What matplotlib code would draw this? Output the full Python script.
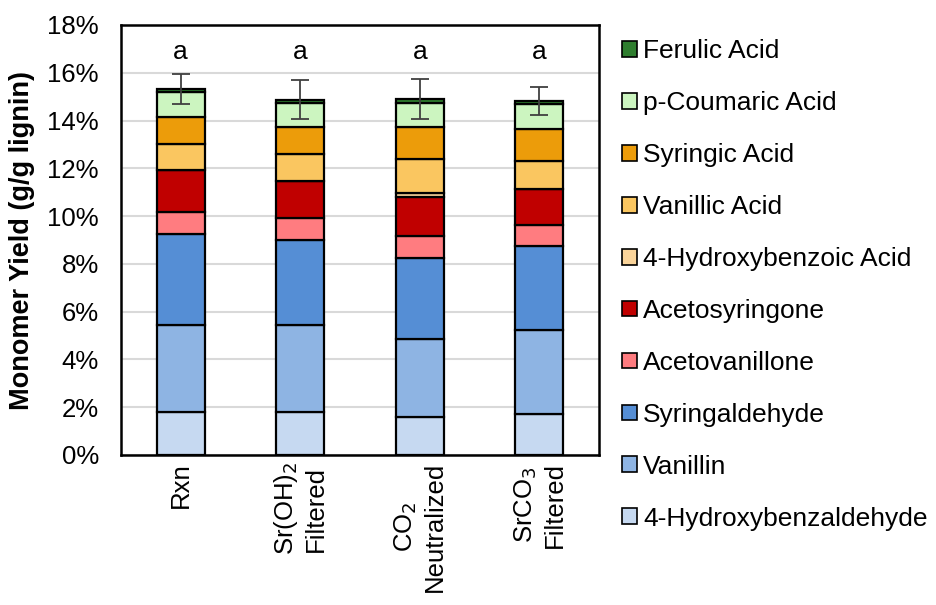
import matplotlib
matplotlib.use("Agg")
import matplotlib.pyplot as plt
import numpy as np
from matplotlib.patches import Patch

plt.rcParams['font.family'] = ['Liberation Sans', 'DejaVu Sans']

categories = ["Rxn", "Sr(OH)$_2$\nFiltered", "CO$_2$\nNeutralized", "SrCO$_3$\nFiltered"]
series_names = ["4-Hydroxybenzaldehyde", "Vanillin", "Syringaldehyde", "Acetovanillone",
                "Acetosyringone", "4-Hydroxybenzoic Acid", "Vanillic Acid", "Syringic Acid",
                "p-Coumaric Acid", "Ferulic Acid"]
hydroxybenzaldehyde = [1.79, 1.79, 1.59, 1.70]
vanillin = [3.64, 3.64, 3.25, 3.54]
syringaldehyde = [3.84, 3.57, 3.41, 3.50]
acetovanillone = [0.90, 0.91, 0.91, 0.90]
acetosyringone = [1.77, 1.54, 1.63, 1.50]
hydroxybenzoic_acid = [0.0, 0.0, 0.18, 0.0]
vanillic_acid = [1.08, 1.13, 1.42, 1.18]
syringic_acid = [1.13, 1.13, 1.36, 1.34]
p_coumaric_acid = [1.04, 1.03, 0.99, 1.03]
ferulic_acid = [0.13, 0.14, 0.16, 0.13]
errors = [0.61, 0.81, 0.83, 0.59]
letters = ["a", "a", "a", "a"]
yticks = [0, 2, 4, 6, 8, 10, 12, 14, 16, 18]

series = [hydroxybenzaldehyde, vanillin, syringaldehyde, acetovanillone, acetosyringone,
          hydroxybenzoic_acid, vanillic_acid, syringic_acid, p_coumaric_acid, ferulic_acid]
colors = ["#C6D9F1", "#8EB4E3", "#558ED5", "#FF7C80", "#C00000",
          "#FAD49A", "#FAC660", "#EC9C0A", "#CCF5C0", "#2E7D2E"]

fig = plt.figure(figsize=(9.36, 6.05), dpi=100)
ax = fig.add_axes([121/936, 1 - 455/605, (599-121)/936, (455-25)/605])

x = np.arange(len(categories))
bottom = np.zeros(len(categories))
handles = []
for name, vals, c in zip(series_names, series, colors):
    v = np.array(vals)
    ax.bar(x, v, width=0.4, bottom=bottom, color=c, edgecolor="black", linewidth=1.6, zorder=3)
    bottom += v
    handles.append(Patch(facecolor=c, edgecolor="black", linewidth=1.2, label=name))

ax.errorbar(x, bottom, yerr=errors, fmt="none", ecolor="#404040", elinewidth=1.3,
            capsize=6.5, capthick=1.3, zorder=4)
for xi, lt in zip(x, letters):
    ax.text(xi, 16.85, lt, ha="center", va="center", fontsize=19)

ax.set_xlim(-0.5, 3.5)
ax.set_ylim(0, 18)
ax.set_yticks(yticks)
ax.set_yticklabels([f"{t}%" for t in yticks], fontsize=18.5)
ax.tick_params(axis="y", length=0, pad=16)
ax.tick_params(axis="x", length=0, pad=5)
ax.set_xticks(x)
ax.set_xticklabels(categories, rotation=90, fontsize=18.5, va="top", ha="center",
                   multialignment="center")
ax.yaxis.grid(True, color="#D9D9D9", linewidth=1.5, zorder=0)
ax.set_axisbelow(True)
for s in ax.spines.values():
    s.set_linewidth(1.8)
    s.set_color("black")
ax.set_ylabel("Monomer Yield (g/g lignin)", fontsize=19.5, fontweight="bold")
ax.yaxis.set_label_coords(-0.18, 0.5)

fig.legend(handles=handles[::-1], loc="upper left", bbox_to_anchor=(622/936, 1 - 39/605),
           frameon=False, fontsize=19, handlelength=0.55, handleheight=0.55,
           handletextpad=0.25, labelspacing=1.06, borderaxespad=0, borderpad=0)

fig.savefig("out.png", dpi=100)
